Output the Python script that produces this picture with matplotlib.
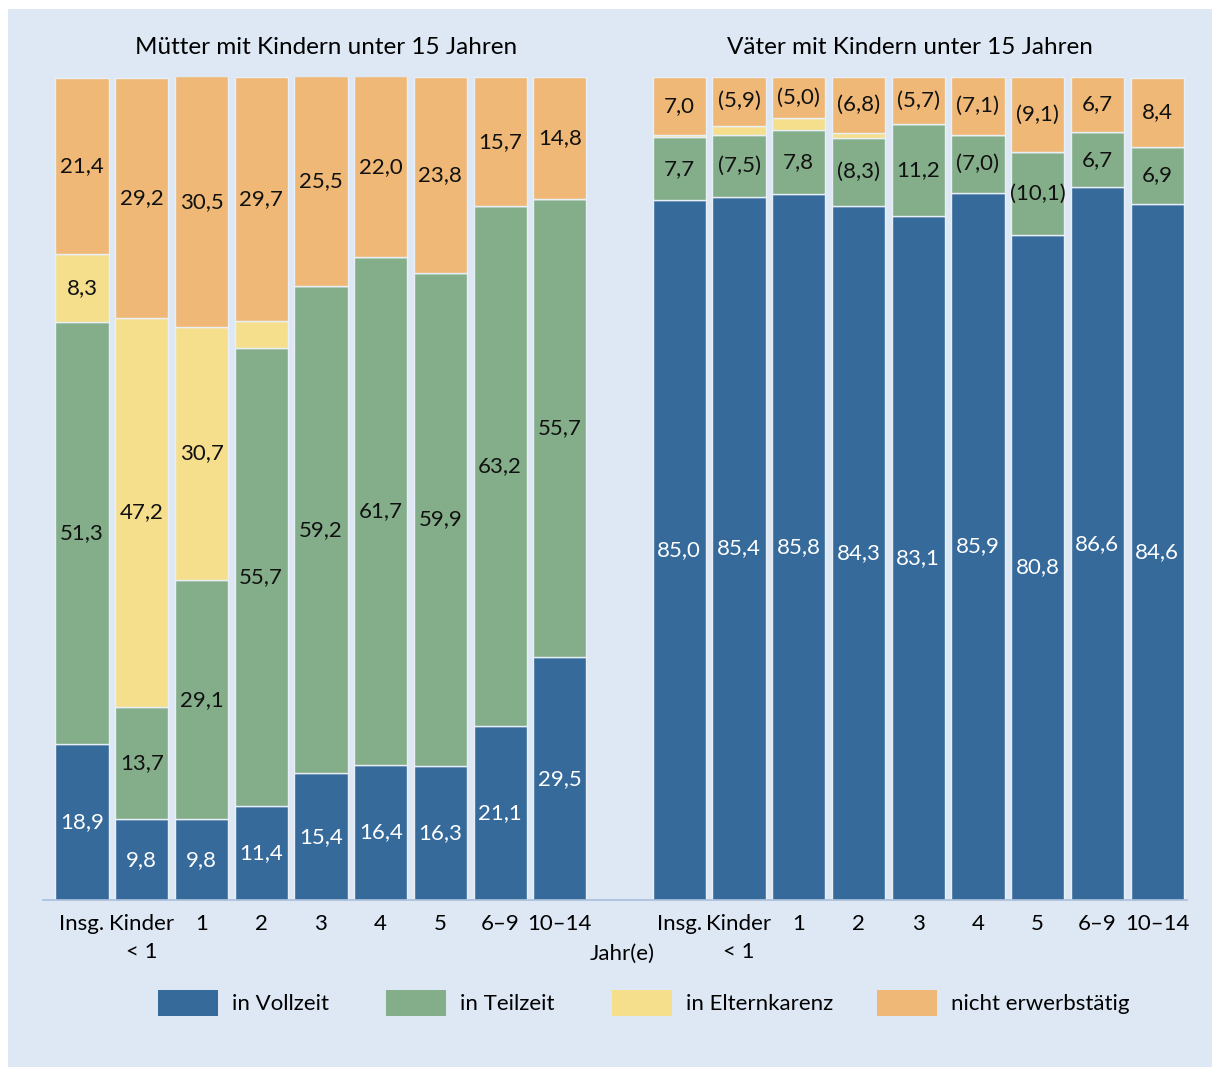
import matplotlib.pyplot as plt
from matplotlib.patches import Rectangle
import numpy as np

plt.rcParams['font.family'] = ['Lato', 'DejaVu Sans']

tick_labels = ['Insg.', 'Kinder\n< 1', '1', '2', '3', '4', '5', '6–9', '10–14']
series_names = ['in Vollzeit', 'in Teilzeit', 'in Elternkarenz', 'nicht erwerbstätig']
colors = ['#366a9b', '#84ae89', '#f5df8d', '#efb876']

# Mütter
m_voll = [18.9, 9.8, 9.8, 11.4, 15.4, 16.4, 16.3, 21.1, 29.5]
m_teil = [51.3, 13.7, 29.1, 55.7, 59.2, 61.7, 59.9, 63.2, 55.7]
m_karenz = [8.3, 47.2, 30.7, 3.2, 0.0, 0.0, 0.0, 0.0, 0.0]
m_nicht = [21.4, 29.2, 30.5, 29.7, 25.5, 22.0, 23.8, 15.7, 14.8]

# Väter
v_voll = [85.0, 85.4, 85.8, 84.3, 83.1, 85.9, 80.8, 86.6, 84.6]
v_teil = [7.7, 7.5, 7.8, 8.3, 11.2, 7.0, 10.1, 6.7, 6.9]
v_karenz = [0.3, 1.2, 1.4, 0.6, 0.0, 0.0, 0.0, 0.0, 0.0]
v_nicht = [7.0, 5.9, 5.0, 6.8, 5.7, 7.1, 9.1, 6.7, 8.4]

# which values are shown in brackets (unreliable estimates)
v_teil_paren = [False, True, False, True, False, True, True, False, False]
v_nicht_paren = [False, True, True, True, True, True, True, False, False]

W, H = 1213, 1067
fig = plt.figure(figsize=(W / 100, H / 100), dpi=100)
fig.patch.set_facecolor('white')
fig.patches.append(Rectangle((8 / W, 0), (W - 9) / W, (H - 9) / H,
                             transform=fig.transFigure, facecolor='#dde8f4',
                             edgecolor='none', zorder=-10))

ax = fig.add_axes([43 / W, (H - 900) / H, 1144 / W, 823 / H])
ax.set_facecolor('none')
ax.set_zorder(1)

x_m = np.arange(9)
x_v = np.arange(9) + 10
bw = 0.89


def fmt(v, paren=False):
    s = f'{v:.1f}'.replace('.', ',')
    return f'({s})' if paren else s


def draw_group(x, voll, teil, karenz, nicht, teil_paren=None, nicht_paren=None):
    bottom = np.zeros(len(x))
    for vals, col in zip([voll, teil, karenz, nicht], colors):
        ax.bar(x, vals, bw, bottom=bottom, color=col, edgecolor='#e9eff6',
               linewidth=1.0, zorder=2)
        bottom = bottom + np.array(vals)
    bottom = np.zeros(len(x))
    for k, vals in enumerate([voll, teil, karenz, nicht]):
        for i, v in enumerate(vals):
            if v >= 5:
                paren = False
                if k == 1 and teil_paren is not None:
                    paren = teil_paren[i]
                if k == 3 and nicht_paren is not None:
                    paren = nicht_paren[i]
                ax.text(x[i], bottom[i] + v / 2, fmt(v, paren),
                        ha='center', va='center', fontsize=16,
                        color='white' if k == 0 else '#111111', zorder=3)
        bottom = bottom + np.array(vals)


draw_group(x_m, m_voll, m_teil, m_karenz, m_nicht)
draw_group(x_v, v_voll, v_teil, v_karenz, v_nicht, v_teil_paren, v_nicht_paren)

ax.set_xlim(-0.653, 18.5)
ax.set_ylim(0, 100)
ax.set_yticks([])
ax.set_xticks(list(x_m) + list(x_v))
ax.set_xticklabels(tick_labels * 2, fontsize=16, va='top', linespacing=1.5)
ax.tick_params(axis='x', length=0, pad=10)
for s in ['top', 'right', 'left']:
    ax.spines[s].set_visible(False)
ax.spines['bottom'].set_color('#a9c0da')
ax.spines['bottom'].set_linewidth(1.2)

fig.text(326 / W, 1 - 48 / H, 'Mütter mit Kindern unter 15 Jahren',
         ha='center', va='center', fontsize=17.5)
fig.text(910 / W, 1 - 48 / H, 'Väter mit Kindern unter 15 Jahren',
         ha='center', va='center', fontsize=17.5)
fig.text(622 / W, 1 - 954 / H, 'Jahr(e)', ha='center', va='center', fontsize=16)

# legend
leg_x = [158, 386, 612, 877]
for lx, name, col in zip(leg_x, series_names, colors):
    fig.patches.append(Rectangle((lx / W, 1 - 1016 / H), 60 / W, 26 / H,
                                 transform=fig.transFigure, facecolor=col,
                                 edgecolor='none', zorder=1))
    fig.text((lx + 74) / W, 1 - 1004 / H, name, ha='left', va='center',
             fontsize=16)

fig.savefig('out.png', dpi=100, facecolor=fig.get_facecolor())
